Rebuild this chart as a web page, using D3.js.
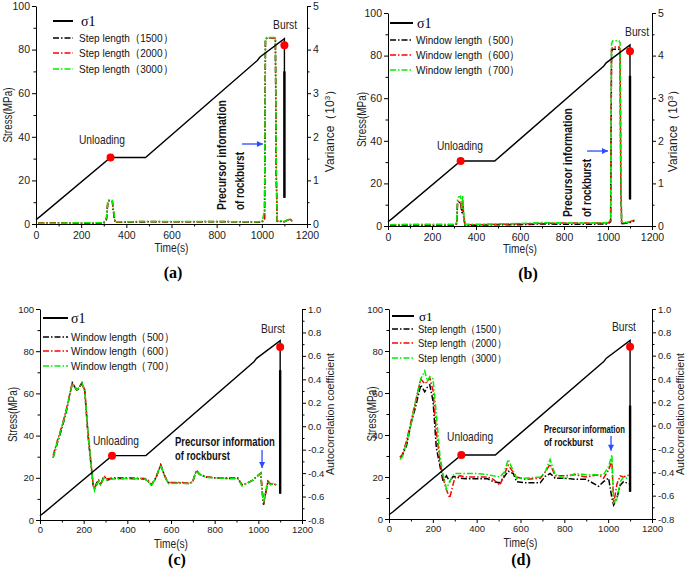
<!DOCTYPE html>
<html><head><meta charset="utf-8">
<script src="https://cdn.jsdelivr.net/npm/d3@7"></script>
<style>body{margin:0;background:#fff}</style>
</head><body>
<svg id="c" width="685" height="571"></svg>
<script>
// ---------------- DATA ----------------
const sigmaTime   = [0, 20, 330, 485, 980, 992, 1100];
const sigmaStress = [2, 3.6, 30.5, 30.5, 75, 76.6, 85];
const unloadingPoint = [330, 30.5];
const burstPoint = [1100, 82];

const stepLabels   = ["Step length（1500）", "Step length（2000）", "Step length（3000）"];
const windowLabels = ["Window length（500）", "Window length（600）", "Window length（700）"];
const sigmaLabel = "σ1";

const xTicks = [0, 200, 400, 600, 800, 1000, 1200];
const stressTicks = [0, 20, 40, 60, 80, 100];
const varianceTicks = [0, 1, 2, 3, 4, 5];
const acTicks = [-0.8, -0.6, -0.4, -0.2, 0.0, 0.2, 0.4, 0.6, 0.8, 1.0];

// (a) variance, step length
const tA = [10,100,200,300,312,318,322,338,342,350,400,500,600,700,800,900,1000,1012,1016,1022,1055,1060,1064,1068,1100,1125,1135];
const varA1500 = [0.02,0.03,0.02,0.02,0.1,0.5,0.53,0.52,0.3,0.04,0.04,0.05,0.05,0.05,0.05,0.05,0.04,0.1,4.2,4.27,4.27,4.25,1.0,0.06,0.05,0.12,0.05];
const varA2000 = [0.03,0.03,0.03,0.03,0.12,0.5,0.54,0.53,0.35,0.04,0.05,0.06,0.05,0.05,0.06,0.05,0.05,0.15,4.22,4.26,4.27,4.26,1.2,0.07,0.06,0.11,0.06];
const varA3000 = [0.02,0.02,0.03,0.03,0.15,0.52,0.55,0.54,0.4,0.05,0.05,0.06,0.06,0.06,0.06,0.05,0.05,0.3,4.25,4.28,4.28,4.27,1.5,0.08,0.06,0.12,0.07];

// (b) variance, window length
const tB = [10,100,200,300,312,316,320,330,336,340,344,350,400,500,600,700,800,900,1000,1012,1016,1022,1050,1055,1058,1062,1100,1120];
const varB500 = [0.02,0.02,0.02,0.02,0.05,0.5,0.55,0.55,0.3,0.52,0.2,0.02,0.02,0.03,0.03,0.05,0.04,0.04,0.05,0.1,4.1,4.15,4.15,4.1,1.0,0.05,0.08,0.13];
const varB600 = [0.03,0.03,0.03,0.03,0.06,0.55,0.58,0.57,0.35,0.58,0.25,0.03,0.03,0.04,0.05,0.06,0.07,0.07,0.07,0.12,4.15,4.2,4.2,4.15,1.2,0.06,0.1,0.14];
const varB700 = [0.03,0.04,0.04,0.04,0.08,0.65,0.68,0.7,0.4,0.72,0.3,0.04,0.04,0.05,0.06,0.08,0.07,0.07,0.08,0.15,4.28,4.35,4.35,4.3,1.5,0.07,0.1,0.15];

// (c) autocorrelation, window length
const tC = [60,80,100,120,148,170,192,205,220,243,250,260,269,278,290,296,307,334,400,480,495,510,530,553,570,586,640,686,700,716,731,760,800,850,906,925,944,975,1011,1017,1024,1037,1044,1055,1067,1082];
const acC500 = [-0.27,-0.14,-0.02,0.12,0.37,0.30,0.37,0.30,-0.08,-0.50,-0.535,-0.48,-0.47,-0.50,-0.44,-0.43,-0.46,-0.445,-0.445,-0.45,-0.47,-0.50,-0.44,-0.33,-0.42,-0.48,-0.485,-0.49,-0.47,-0.375,-0.41,-0.435,-0.44,-0.445,-0.445,-0.50,-0.49,-0.46,-0.40,-0.55,-0.67,-0.53,-0.47,-0.50,-0.49,-0.50];
const acC600 = [-0.25,-0.12,0.00,0.14,0.37,0.31,0.36,0.31,-0.05,-0.49,-0.52,-0.50,-0.46,-0.49,-0.45,-0.43,-0.45,-0.44,-0.44,-0.445,-0.46,-0.50,-0.45,-0.33,-0.42,-0.48,-0.48,-0.485,-0.47,-0.38,-0.41,-0.43,-0.44,-0.44,-0.44,-0.50,-0.49,-0.46,-0.40,-0.52,-0.66,-0.55,-0.47,-0.49,-0.49,-0.50];
const acC700 = [-0.27,-0.13,-0.01,0.13,0.36,0.31,0.37,0.31,-0.06,-0.50,-0.55,-0.49,-0.47,-0.50,-0.45,-0.44,-0.46,-0.45,-0.445,-0.45,-0.47,-0.51,-0.44,-0.33,-0.42,-0.49,-0.485,-0.49,-0.47,-0.38,-0.41,-0.435,-0.44,-0.445,-0.445,-0.51,-0.49,-0.46,-0.40,-0.56,-0.65,-0.52,-0.47,-0.50,-0.49,-0.50];

// (d) autocorrelation, step length
const tD = [50,60,80,102,120,145,163,175,186,201,216,232,247,262,277,290,300,323,350,400,450,476,506,525,544,567,582,620,690,712,735,758,800,850,900,956,979,1002,1017,1025,1040,1055,1070,1085,1100];
const acD1500 = [-0.27,-0.26,-0.17,0.03,0.15,0.35,0.29,0.33,0.35,0.21,-0.19,-0.34,-0.48,-0.43,-0.48,-0.44,-0.435,-0.45,-0.455,-0.455,-0.455,-0.48,-0.49,-0.44,-0.39,-0.41,-0.48,-0.49,-0.49,-0.435,-0.41,-0.45,-0.45,-0.46,-0.46,-0.52,-0.48,-0.45,-0.62,-0.68,-0.62,-0.51,-0.48,-0.49,-0.50];
const acD2000 = [-0.27,-0.25,-0.13,0.05,0.20,0.40,0.36,0.38,0.41,0.30,-0.05,-0.30,-0.45,-0.55,-0.62,-0.52,-0.45,-0.43,-0.44,-0.44,-0.44,-0.46,-0.51,-0.42,-0.34,-0.40,-0.44,-0.46,-0.45,-0.40,-0.33,-0.43,-0.43,-0.42,-0.44,-0.42,-0.45,-0.38,-0.30,-0.67,-0.50,-0.43,-0.44,-0.43,-0.42];
const acD3000 = [-0.29,-0.27,-0.15,0.02,0.20,0.40,0.47,0.38,0.42,0.40,0.10,-0.25,-0.42,-0.54,-0.48,-0.43,-0.41,-0.41,-0.41,-0.41,-0.42,-0.43,-0.44,-0.40,-0.29,-0.39,-0.45,-0.45,-0.44,-0.40,-0.29,-0.42,-0.45,-0.41,-0.42,-0.42,-0.42,-0.35,-0.25,-0.66,-0.63,-0.48,-0.44,-0.45,-0.44];

// ---------------- DRAWING ----------------
const svg = d3.select('#c');
const SANS = "'Liberation Sans', Arial, sans-serif";
const COLORS = ["#000000", "#ff0000", "#00ee00"];
const DASH = "6,2,1.5,2";

function fit(sel, len) { return sel.attr('textLength', len).attr('lengthAdjust', 'spacingAndGlyphs'); }

function panel(cfg) {
  const g = svg.append('g');
  const x = d3.scaleLinear().domain([0, 1200]).range([cfg.x0, cfg.x1]);
  const yL = d3.scaleLinear().domain([0, 100]).range([cfg.yBot, cfg.yTop]);
  const yR = d3.scaleLinear().domain(cfg.rDomain).range([cfg.yBot, cfg.yTop]);

  function addAxis(makeAxis, major, minor, fmt, tr, pad) {
    const a = g.append('g').attr('transform', tr)
      .call(makeAxis().tickValues(major).tickSize(4).tickSizeOuter(0).tickPadding(pad).tickFormat(fmt));
    a.selectAll('text').attr('font-family', SANS).attr('font-size', cfg.tickFs).attr('fill', '#222');
    a.selectAll('line,path').attr('stroke', '#000');
    const m = g.append('g').attr('transform', tr)
      .call(makeAxis().tickValues(minor).tickSize(2.5).tickSizeOuter(0).tickFormat(''));
    m.select('.domain').remove();
    m.selectAll('line').attr('stroke', '#000');
  }
  addAxis(() => d3.axisBottom(x), xTicks, d3.range(100, 1200, 200), d3.format('d'), `translate(0,${cfg.yBot})`, cfg.xPad);
  addAxis(() => d3.axisLeft(yL), stressTicks, d3.range(10, 100, 20), d3.format('d'), `translate(${cfg.x0},0)`, 2);
  addAxis(() => d3.axisRight(yR), cfg.rTicks, cfg.rMinor, cfg.rFmt, `translate(${cfg.x1},0)`, 2);

  // series
  const line = d3.line().x(d => x(d[0])).y(d => yR(d[1]));
  cfg.series.forEach((s, i) => {
    g.append('path').datum(cfg.t.map((t, k) => [t, s[k]]))
      .attr('d', line).attr('fill', 'none').attr('stroke', COLORS[i])
      .attr('stroke-width', 1.5).attr('stroke-dasharray', DASH);
  });

  // sigma1
  const sl = d3.line().x(d => x(d[0])).y(d => yL(d[1]));
  const sigmaPts = sigmaTime.map((t, k) => [t, sigmaStress[k]]);
  sigmaPts.push([sigmaTime[sigmaTime.length - 1], cfg.dropBottom]);
  g.append('path').datum(sigmaPts).attr('d', sl).attr('fill', 'none')
    .attr('stroke', '#000').attr('stroke-width', 1.4);
  g.append('path').datum([[burstPoint[0], cfg.thickTop], [burstPoint[0], cfg.dropBottom]])
    .attr('d', sl).attr('stroke', '#000').attr('stroke-width', 2.4);

  // red points
  g.selectAll('circle.pt').data([unloadingPoint, burstPoint]).join('circle')
    .attr('cx', d => x(d[0])).attr('cy', d => yL(d[1])).attr('r', 4).attr('fill', '#ff0000');

  // axis titles
  const cy = (cfg.yTop + cfg.yBot) / 2;
  fit(g.append('text').attr('transform', `translate(${cfg.leftTitleX},${cy}) rotate(-90)`)
    .attr('text-anchor', 'middle').attr('font-family', SANS).attr('font-size', 12).attr('fill', '#222')
    .text('Stress(MPa)'), 55);
  fit(g.append('text').attr('x', (cfg.x0 + cfg.x1) / 2).attr('y', cfg.timeY)
    .attr('text-anchor', 'middle').attr('font-family', SANS).attr('font-size', 12).attr('fill', '#222')
    .text('Time(s)'), 34);
  const rt = g.append('text').attr('transform', `translate(${cfg.rightTitleX},${cfg.rightTitleY}) rotate(-90)`)
    .attr('text-anchor', 'middle').attr('font-family', SANS).attr('font-size', 12).attr('fill', '#222');
  if (cfg.rightTitle === 'variance') {
    rt.append('tspan').text('Variance（10');
    rt.append('tspan').attr('baseline-shift', 'super').attr('font-size', 8).text('3');
    rt.append('tspan').text('）');
  } else {
    fit(rt.attr('font-size', 11.5).text('Autocorrelation coefficient'), 122);
  }

  // legend
  const L = cfg.legend;
  g.append('line').attr('x1', L.x).attr('x2', L.x + L.len).attr('y1', L.rows[0]).attr('y2', L.rows[0])
    .attr('stroke', '#000').attr('stroke-width', 2);
  g.append('text').attr('x', L.sigmaX).attr('y', L.rows[0] + 4.5).attr('font-family', "'Liberation Serif', serif")
    .attr('font-size', L.sigmaFs).text(sigmaLabel);
  cfg.labels.forEach((lab, i) => {
    const yy = L.rows[i + 1];
    g.append('line').attr('x1', L.x).attr('x2', L.x + L.len).attr('y1', yy).attr('y2', yy)
      .attr('stroke', COLORS[i]).attr('stroke-width', 1.5).attr('stroke-dasharray', DASH);
    fit(g.append('text').attr('x', L.textX).attr('y', yy + 4).attr('font-family', SANS)
      .attr('font-size', L.fs).attr('fill', '#111').text(lab), L.textLen);
  });

  // annotations
  const A = cfg.ann;
  fit(g.append('text').attr('x', x(A.unload[0])).attr('y', yL(A.unload[1])).attr('text-anchor', 'middle')
    .attr('font-family', SANS).attr('font-size', 13).attr('fill', '#222').text('Unloading'), 46);
  fit(g.append('text').attr('x', x(A.burst[0])).attr('y', yL(A.burst[1])).attr('text-anchor', 'middle')
    .attr('font-family', SANS).attr('font-size', 12).attr('fill', '#222').text('Burst'), 24);
  [['Precursor information', A.p1, A.len1], ['of rockburst', A.p2, A.len2]].forEach(([txt, p, len]) => {
    const t = g.append('text').attr('font-family', SANS).attr('font-weight', 'bold')
      .attr('font-size', A.fs).attr('fill', '#111').text(txt);
    if (A.rotated) t.attr('transform', `translate(${x(p[0])},${yL(p[1])}) rotate(-90)`);
    else t.attr('x', x(p[0])).attr('y', yL(p[1]));
    fit(t, len);
  });
  // blue arrow
  const ax1 = x(A.arrow[0][0]), ay1 = yL(A.arrow[0][1]), ax2 = x(A.arrow[1][0]), ay2 = yL(A.arrow[1][1]);
  g.append('line').attr('x1', ax1).attr('y1', ay1).attr('x2', ax2).attr('y2', ay2)
    .attr('stroke', '#2a4bff').attr('stroke-width', 1.3);
  const ang = Math.atan2(ay2 - ay1, ax2 - ax1);
  const hl = 6, hw = 3;
  const bx = ax2 - hl * Math.cos(ang), by = ay2 - hl * Math.sin(ang);
  g.append('path').attr('d', `M${ax2},${ay2}L${bx - hw * Math.sin(ang)},${by + hw * Math.cos(ang)}L${bx + hw * Math.sin(ang)},${by - hw * Math.cos(ang)}Z`)
    .attr('fill', '#2a4bff');

  // panel label
  g.append('text').attr('x', cfg.labelX).attr('y', cfg.labelY).attr('text-anchor', 'middle')
    .attr('font-family', "'Liberation Serif', serif").attr('font-weight', 'bold').attr('font-size', 16)
    .text(cfg.label);
}

const intFmt = d3.format('d');
const acFmt = v => v.toFixed(1);

panel({
  x0: 36, x1: 307, yTop: 6, yBot: 224, tickFs: 10.5, xPad: 4,
  rDomain: [0, 5], rTicks: varianceTicks, rMinor: d3.range(0.5, 5, 1), rFmt: intFmt,
  t: tA, series: [varA1500, varA2000, varA3000], labels: stepLabels,
  dropBottom: 12, thickTop: 70,
  leftTitleX: 12, timeY: 252, rightTitle: 'variance', rightTitleX: 334, rightTitleY: 128,
  legend: { x: 53, len: 20, sigmaX: 81, sigmaFs: 14, textX: 79, textLen: 94, fs: 11.5, rows: [21, 38, 53, 69] },
  ann: { unload: [292, 36.7], burst: [1103, 89.4], rotated: true, fs: 12.5,
         p1: [841, 6.4], p2: [921, 6.4], len1: 110, len2: 58, arrow: [[912, 36.7], [1005, 36.7]] },
  label: '(a)', labelX: 173, labelY: 278
});

panel({
  x0: 388, x1: 652, yTop: 13, yBot: 226, tickFs: 10.5, xPad: 4,
  rDomain: [0, 5], rTicks: varianceTicks, rMinor: d3.range(0.5, 5, 1), rFmt: intFmt,
  t: tB, series: [varB500, varB600, varB700], labels: windowLabels,
  dropBottom: 12.5, thickTop: 70.5,
  leftTitleX: 366, timeY: 253, rightTitle: 'variance', rightTitleX: 677, rightTitleY: 128,
  legend: { x: 390, len: 23, sigmaX: 417, sigmaFs: 14, textX: 416, textLen: 104, fs: 11.5, rows: [23, 40, 55, 70] },
  ann: { unload: [327, 35.7], burst: [1132, 89.2], rotated: true, fs: 12.5,
         p1: [836, 4.2], p2: [923, 4.2], len1: 109, len2: 58, arrow: [[905, 35.2], [1000, 35.2]] },
  label: '(b)', labelX: 528, labelY: 279
});

panel({
  x0: 40, x1: 302, yTop: 309, yBot: 520, tickFs: 9.5, xPad: 2,
  rDomain: [-0.8, 1.0], rTicks: acTicks, rMinor: d3.range(-0.7, 1.0, 0.2), rFmt: acFmt,
  t: tC, series: [acC500, acC600, acC700], labels: windowLabels,
  dropBottom: 12.5, thickTop: 71,
  leftTitleX: 17, timeY: 548, rightTitle: 'ac', rightTitleX: 334, rightTitleY: 414,
  legend: { x: 43, len: 25, sigmaX: 71, sigmaFs: 14, textX: 71, textLen: 103, fs: 11.5, rows: [318, 337, 351, 366] },
  ann: { unload: [348, 35.5], burst: [1067, 88.6], rotated: false, fs: 12,
         p1: [618, 35.1], p2: [618, 28.4], len1: 100, len2: 55, arrow: [[1017, 33.2], [1017, 24.6]] },
  label: '(c)', labelX: 177, labelY: 565
});

panel({
  x0: 389, x1: 652, yTop: 309, yBot: 519, tickFs: 9.5, xPad: 2,
  rDomain: [-0.8, 1.0], rTicks: acTicks, rMinor: d3.range(-0.7, 1.0, 0.2), rFmt: acFmt,
  t: tD, series: [acD1500, acD2000, acD3000], labels: stepLabels,
  dropBottom: 13, thickTop: 54,
  leftTitleX: 376, timeY: 547, rightTitle: 'ac', rightTitleX: 684, rightTitleY: 414,
  legend: { x: 392, len: 22, sigmaX: 419, sigmaFs: 13, textX: 418, textLen: 88, fs: 11, rows: [316, 329, 343, 358] },
  ann: { unload: [370, 37.1], burst: [1072, 89.5], rotated: false, fs: 11,
         p1: [707, 41], p2: [707, 34.8], len1: 81, len2: 49, arrow: [[1013, 39.5], [1013, 32.5]] },
  label: '(d)', labelX: 521, labelY: 565
});
</script>
</body></html>
